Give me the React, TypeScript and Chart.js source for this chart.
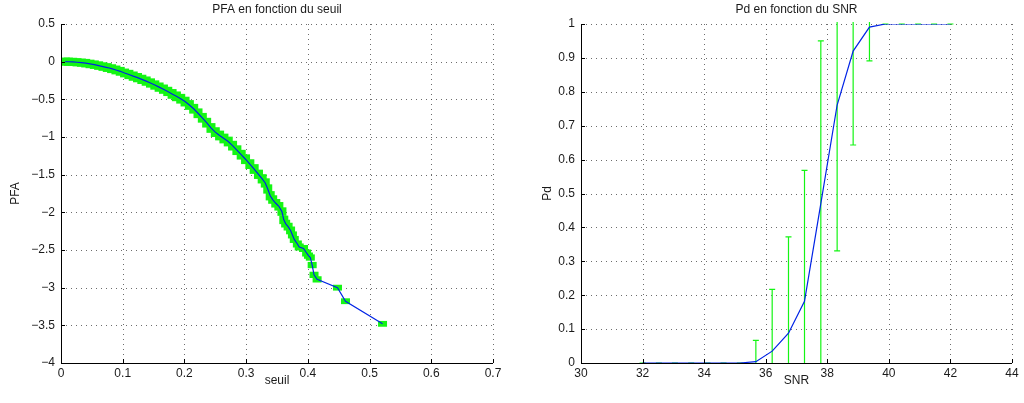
import React, { useEffect, useRef } from "react";
import { Chart, registerables } from "chart.js";

Chart.register(...registerables);

// ---------- Data ----------
const seuil = [
  0.007, 0.012, 0.019, 0.026, 0.033, 0.040, 0.047, 0.054, 0.061, 0.068,
  0.075, 0.082, 0.089, 0.096, 0.103, 0.110, 0.117, 0.124, 0.131, 0.138,
  0.145, 0.152, 0.159, 0.166, 0.173, 0.180, 0.187, 0.194, 0.201, 0.208,
  0.215, 0.222, 0.229, 0.236, 0.243, 0.250, 0.257, 0.264, 0.271, 0.278,
  0.285, 0.292, 0.299, 0.306, 0.313, 0.320, 0.326, 0.331, 0.335, 0.339,
  0.343, 0.348, 0.353, 0.358, 0.361, 0.364, 0.368, 0.372, 0.375, 0.378,
  0.383, 0.386, 0.393, 0.398, 0.401, 0.404, 0.407, 0.410, 0.415, 0.448,
  0.461, 0.521,
];
const pfa = [
  0, -0.001, -0.003, -0.008, -0.013, -0.02, -0.03, -0.04, -0.052, -0.065,
  -0.078, -0.093, -0.11, -0.128, -0.15, -0.17, -0.192, -0.212, -0.235, -0.258,
  -0.283, -0.31, -0.338, -0.365, -0.395, -0.428, -0.46, -0.492, -0.53, -0.575,
  -0.625, -0.685, -0.745, -0.81, -0.88, -0.935, -0.98, -1.02, -1.06, -1.115,
  -1.175, -1.235, -1.295, -1.36, -1.425, -1.495, -1.555, -1.61, -1.69, -1.78,
  -1.83, -1.88, -1.92, -1.99, -2.1, -2.15, -2.19, -2.24, -2.3, -2.36,
  -2.42, -2.46, -2.48, -2.54, -2.575, -2.6, -2.7, -2.83, -2.89, -3.0,
  -3.18, -3.48,
];
const pfaErr = [
  0.048, 0.048, 0.048, 0.048, 0.048, 0.05, 0.05, 0.05, 0.05, 0.05,
  0.052, 0.052, 0.052, 0.052, 0.052, 0.055, 0.055, 0.055, 0.055, 0.055,
  0.055, 0.055, 0.055, 0.055, 0.055, 0.058, 0.058, 0.058, 0.058, 0.058,
  0.058, 0.058, 0.058, 0.058, 0.058, 0.058, 0.058, 0.058, 0.058, 0.058,
  0.058, 0.058, 0.058, 0.058, 0.058, 0.055, 0.055, 0.055, 0.055, 0.055,
  0.05, 0.05, 0.05, 0.05, 0.05, 0.045, 0.045, 0.045, 0.04, 0.04,
  0.04, 0.04, 0.04, 0.04, 0.035, 0.035, 0.035, 0.035, 0.035, 0.032,
  0.032, 0.032,
];

const snr = [
  32, 32.53, 33.05, 33.58, 34.11, 34.63, 35.16, 35.68, 36.21, 36.74,
  37.26, 37.79, 38.32, 38.84, 39.37, 39.89, 40.42, 40.95, 41.47, 42,
];
const pd = [
  0, 0, 0, 0, 0, 0, 0, 0.004, 0.035, 0.088,
  0.182, 0.47, 0.761, 0.92, 0.991, 1, 1, 1, 1, 1,
];
const pdErr = [
  0, 0, 0, 0, 0, 0, 0, 0.063, 0.182, 0.284,
  0.386, 0.48, 0.43, 0.277, 0.1, 0, 0, 0, 0, 0,
];

const leftXTicks = [0, 0.1, 0.2, 0.3, 0.4, 0.5, 0.6, 0.7];
const leftYTicks = [0.5, 0, -0.5, -1, -1.5, -2, -2.5, -3, -3.5, -4];
const rightXTicks = [30, 32, 34, 36, 38, 40, 42, 44];
const rightYTicks = [0, 0.1, 0.2, 0.3, 0.4, 0.5, 0.6, 0.7, 0.8, 0.9, 1];

const leftTitle = "PFA en fonction du seuil";
const leftXLabel = "seuil";
const leftYLabel = "PFA";
const rightTitle = "Pd en fonction du SNR";
const rightXLabel = "SNR";
const rightYLabel = "Pd";

// ---------- Styles ----------
const FONT = "'Liberation Sans', Arial, Helvetica, sans-serif";
const TEXT = "#1a1a1a";
const GREEN = "rgb(20,245,20)";
const BLUE = "rgb(0,35,230)";

const fmt = (v: number) => String(v).replace("-", "\u2212");

type PanelCfg = {
  xs: number[];
  ys: number[];
  errs: number[];
  xTicks: number[];
  yTicks: number[];
  title: string;
  xLabel: string;
  yLabel: string;
  yLabelOffset: number;
  errWidth: number;
  errBox: boolean;
  capHalf: number;
  padRight: number;
};

const decorPlugin = {
  id: "matlabDecor",
  beforeDatasetsDraw(chart: any) {
    const cfg: PanelCfg = chart.options.plugins.matlabDecor.cfg;
    const { ctx, chartArea: a } = chart;
    const xs = chart.scales.x;
    const ys = chart.scales.y;
    ctx.save();
    // dotted grid
    ctx.strokeStyle = "rgba(60,60,60,0.75)";
    ctx.lineWidth = 1;
    ctx.setLineDash([1, 4]);
    cfg.xTicks.forEach((t) => {
      const px = Math.round(xs.getPixelForValue(t)) + 0.5;
      ctx.beginPath();
      ctx.moveTo(px, a.top);
      ctx.lineTo(px, a.bottom);
      ctx.stroke();
    });
    cfg.yTicks.forEach((t) => {
      const py = Math.round(ys.getPixelForValue(t)) + 0.5;
      ctx.beginPath();
      ctx.moveTo(a.left, py);
      ctx.lineTo(a.right, py);
      ctx.stroke();
    });
    ctx.setLineDash([]);
    // error bars
    ctx.beginPath();
    ctx.rect(a.left, a.top - 2, a.right - a.left, a.bottom - a.top + 3);
    ctx.clip();
    ctx.strokeStyle = GREEN;
    ctx.fillStyle = GREEN;
    ctx.lineWidth = cfg.errWidth;
    const w = cfg.capHalf;
    for (let i = 0; i < cfg.xs.length; i++) {
      const px = xs.getPixelForValue(cfg.xs[i]);
      const y1 = ys.getPixelForValue(cfg.ys[i] - cfg.errs[i]);
      const y2 = ys.getPixelForValue(cfg.ys[i] + cfg.errs[i]);
      if (cfg.errBox) {
        ctx.fillRect(px - w, y2 - 0.5, 2 * w, y1 - y2 + 1);
      } else {
        ctx.beginPath();
        ctx.moveTo(px, y1);
        ctx.lineTo(px, y2);
        ctx.moveTo(px - w, y1);
        ctx.lineTo(px + w, y1);
        ctx.moveTo(px - w, y2);
        ctx.lineTo(px + w, y2);
        ctx.stroke();
      }
    }
    ctx.restore();
  },
  afterDraw(chart: any) {
    const cfg: PanelCfg = chart.options.plugins.matlabDecor.cfg;
    const { ctx, chartArea: a } = chart;
    const xs = chart.scales.x;
    const ys = chart.scales.y;
    ctx.save();
    // axes lines
    ctx.strokeStyle = "#000";
    ctx.lineWidth = 1;
    ctx.beginPath();
    ctx.moveTo(a.left + 0.5, a.top);
    ctx.lineTo(a.left + 0.5, a.bottom + 0.5);
    ctx.lineTo(a.right, a.bottom + 0.5);
    ctx.stroke();
    // inward ticks
    const tl = 4;
    ctx.beginPath();
    cfg.xTicks.forEach((t) => {
      const px = Math.round(xs.getPixelForValue(t)) + 0.5;
      ctx.moveTo(px, a.bottom);
      ctx.lineTo(px, a.bottom - tl);
    });
    cfg.yTicks.forEach((t) => {
      const py = Math.round(ys.getPixelForValue(t)) + 0.5;
      ctx.moveTo(a.left, py);
      ctx.lineTo(a.left + tl, py);
    });
    ctx.stroke();
    // texts
    ctx.fillStyle = TEXT;
    ctx.font = `12px ${FONT}`;
    ctx.textAlign = "center";
    ctx.textBaseline = "middle";
    const cx = (a.left + a.right) / 2;
    ctx.fillText(cfg.title, cx, 10);
    ctx.fillText(cfg.xLabel, cx, 381);
    ctx.translate(a.left - cfg.yLabelOffset, (a.top + a.bottom) / 2);
    ctx.rotate(-Math.PI / 2);
    ctx.fillText(cfg.yLabel, 0, 0);
    ctx.restore();
  },
};

function Panel({ cfg, left, width }: { cfg: PanelCfg; left: number; width: number }) {
  const ref = useRef<HTMLCanvasElement>(null);
  useEffect(() => {
    if (!ref.current) return;
    const pts = cfg.xs.map((x, i) => ({ x, y: cfg.ys[i] }));
    const chart = new Chart(ref.current, {
      type: "line",
      data: {
        datasets: [
          {
            data: pts,
            borderColor: BLUE,
            borderWidth: 1.2,
            pointRadius: 0,
            tension: 0,
            fill: false,
          },
        ],
      },
      options: {
        animation: false,
        responsive: false,
        events: [],
        layout: { padding: { left: 0, top: 24, right: cfg.padRight, bottom: 0 } },
        plugins: {
          legend: { display: false },
          tooltip: { enabled: false },
          title: { display: false },
          matlabDecor: { cfg },
        } as any,
        scales: {
          x: {
            type: "linear",
            min: cfg.xTicks[0],
            max: cfg.xTicks[cfg.xTicks.length - 1],
            grid: { display: false, drawTicks: false },
            border: { display: false },
            afterBuildTicks: (s: any) => {
              s.ticks = cfg.xTicks.map((v) => ({ value: v }));
            },
            afterFit: (s: any) => {
              s.height = 40;
            },
            ticks: {
              autoSkip: false,
              maxRotation: 0,
              padding: 3,
              color: TEXT,
              font: { family: FONT, size: 12 },
              callback: (v: any) => fmt(Number(v)),
            },
          },
          y: {
            type: "linear",
            min: Math.min(...cfg.yTicks),
            max: Math.max(...cfg.yTicks),
            grid: { display: false, drawTicks: false },
            border: { display: false },
            afterBuildTicks: (s: any) => {
              s.ticks = cfg.yTicks.map((v) => ({ value: v }));
            },
            afterFit: (s: any) => {
              s.width = 61;
            },
            ticks: {
              autoSkip: false,
              padding: 6,
              color: TEXT,
              font: { family: FONT, size: 12 },
              callback: (v: any) => fmt(Number(v)),
            },
          },
        },
      },
      plugins: [decorPlugin],
    });
    return () => chart.destroy();
  }, [cfg]);
  return (
    <canvas
      ref={ref}
      width={width}
      height={403}
      style={{ position: "absolute", left, top: 0, width, height: 403 }}
    />
  );
}

const leftCfg: PanelCfg = {
  xs: seuil,
  ys: pfa,
  errs: pfaErr,
  xTicks: leftXTicks,
  yTicks: leftYTicks,
  title: leftTitle,
  xLabel: leftXLabel,
  yLabel: leftYLabel,
  yLabelOffset: 45,
  errWidth: 1,
  errBox: true,
  capHalf: 4.5,
  padRight: 27,
};

const rightCfg: PanelCfg = {
  xs: snr,
  ys: pd,
  errs: pdErr,
  xTicks: rightXTicks,
  yTicks: rightYTicks,
  title: rightTitle,
  xLabel: rightXLabel,
  yLabel: rightYLabel,
  yLabelOffset: 33,
  errWidth: 1.2,
  errBox: false,
  capHalf: 3,
  padRight: 12,
};

export default function App() {
  return (
    <div
      style={{
        position: "absolute",
        left: 0,
        top: 0,
        width: 1024,
        height: 403,
        background: "#fff",
        overflow: "hidden",
      }}
    >
      <Panel cfg={leftCfg} left={0} width={520} />
      <Panel cfg={rightCfg} left={520} width={504} />
    </div>
  );
}
